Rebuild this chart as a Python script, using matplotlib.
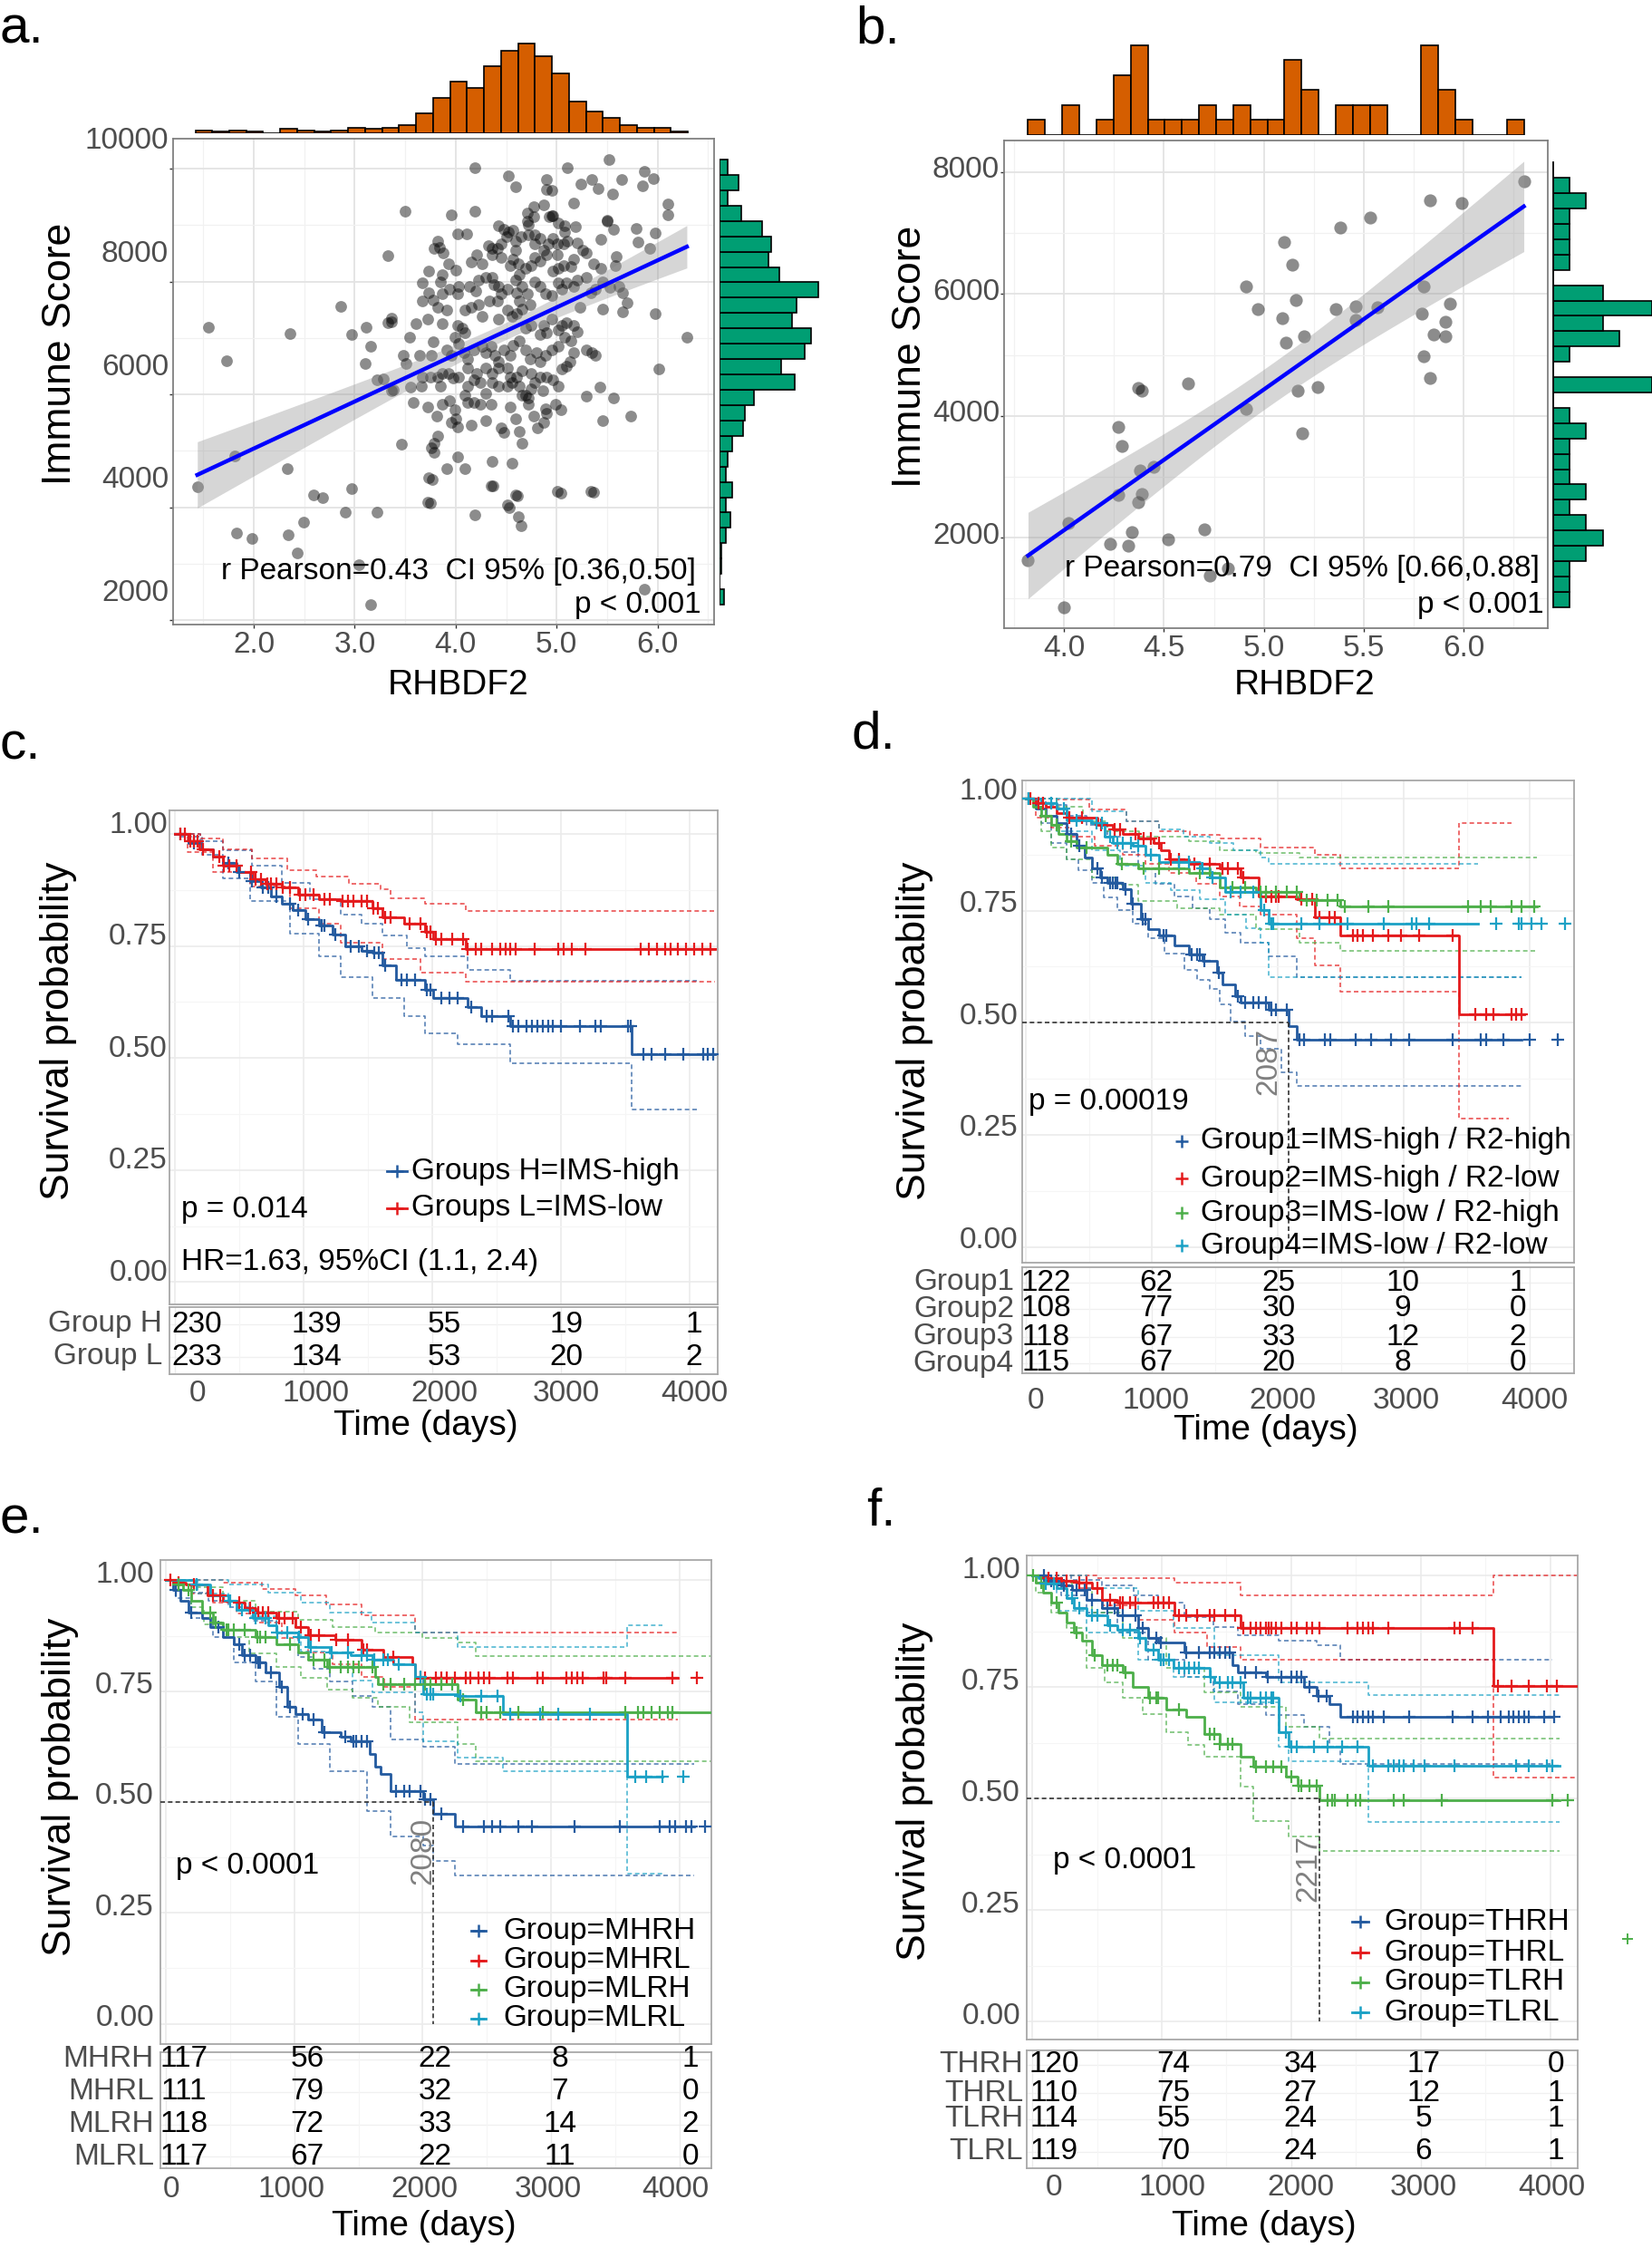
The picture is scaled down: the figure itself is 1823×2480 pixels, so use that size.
import numpy as np
import matplotlib
matplotlib.use("Agg")
import matplotlib.pyplot as plt
from matplotlib.lines import Line2D
import matplotlib.transforms as mtransforms

plt.rcParams['font.family'] = ['Liberation Sans', 'DejaVu Sans']

# ---------------- Panel a data ----------------
a_rhbdf2 = [
5.52,4.19,5.11,4.52,4.59,4.90,4.90,4.95,5.24,5.35,
5.41,5.55,5.64,5.87,5.96,5.85,5.17,6.10,6.10,3.50,
3.96,4.19,4.77,4.87,4.71,4.95,5.50,5.50,4.72,4.42,
4.52,4.57,4.48,4.71,4.77,4.93,4.96,5.02,5.08,5.08,
5.19,5.56,5.79,5.98,5.81,5.92,4.02,4.11,3.82,3.79,
3.84,3.88,4.32,4.36,4.41,4.45,4.50,4.59,4.59,4.65,
4.72,4.78,4.78,4.84,4.87,4.92,4.96,5.01,5.07,5.11,
5.20,5.26,5.29,5.44,4.57,4.62,4.54,4.45,4.36,4.21,
4.26,4.15,3.73,3.87,3.93,4.00,4.78,4.84,4.90,5.01,
5.07,5.02,4.96,5.14,5.17,5.37,5.44,5.59,5.58,4.69,
4.75,4.63,3.67,3.73,3.67,3.78,3.85,3.87,3.82,3.91,
3.94,4.02,4.03,3.33,3.33,3.36,3.61,3.72,3.87,4.14,
4.20,4.23,4.30,4.36,4.38,4.42,4.45,4.51,4.59,4.60,
4.63,4.66,4.71,4.74,4.78,4.84,4.89,4.95,5.02,5.05,
5.10,5.17,5.20,5.29,5.34,5.38,5.46,5.53,5.62,5.65,
5.70,5.65,5.46,5.23,4.09,4.15,4.23,4.26,4.33,4.41,
4.42,4.51,4.56,4.60,4.66,4.87,4.95,5.05,5.10,5.17,
5.20,5.08,5.02,4.90,4.84,4.75,4.69,4.06,4.09,3.99,
4.02,5.98,6.29,3.54,3.78,3.48,3.51,3.64,3.76,3.91,
3.96,4.03,4.08,4.12,4.18,4.26,4.30,4.35,4.39,4.42,
4.48,4.54,4.57,4.63,4.69,4.74,4.80,4.84,4.89,4.95,
5.02,5.14,5.17,5.29,5.35,5.38,5.13,5.05,5.10,4.12,
4.21,4.30,4.36,4.42,4.51,4.54,4.60,4.66,4.75,4.78,
4.84,4.90,4.96,3.67,3.75,3.82,3.87,3.93,3.97,4.03,
4.12,4.18,4.24,3.22,3.36,3.55,3.66,3.85,4.09,4.30,
4.36,4.42,4.51,4.56,4.63,4.66,4.72,4.75,4.86,5.02,
5.43,5.29,5.56,6.01,3.58,3.72,3.81,3.87,3.94,3.99,
4.00,3.96,4.02,4.12,4.18,4.24,4.30,4.35,4.45,4.48,
4.54,4.59,4.63,4.66,4.69,4.72,4.77,4.81,4.87,4.89,
4.90,4.99,5.04,4.15,5.46,5.73,3.82,3.79,3.76,3.79,
3.46,4.02,3.91,4.09,3.73,4.36,4.56,4.35,4.59,5.01,
5.34,3.72,4.51,1.55,1.73,2.36,2.86,2.97,3.11,3.16,
3.10,1.44,1.81,2.33,2.59,2.68,2.97,2.91,3.22,2.49,
1.83,1.98,2.34,2.43,3.04,3.16,3.28,3.38,3.36,3.77,
3.75,4.19,4.53,4.62,4.65,4.61,5.04,5.37,5.87,4.37,
]
a_immune = [
10160,10011,10016,9877,9679,9802,9636,9610,9722,9813,
9652,9556,9802,9957,9829,9695,9385,9369,9187,9251,
9187,9251,9332,9358,9209,9171,9091,9064,9011,8995,
8877,8904,8920,9064,9144,9144,9171,9037,8984,8877,
8973,8930,8941,8866,8706,8583,8850,8840,8717,8583,
8610,8503,8636,8583,8583,8663,8797,8717,8556,8797,
8823,8823,8663,8770,8556,8663,8770,8663,8663,8717,
8690,8556,8503,8743,8396,8315,8289,8422,8476,8476,
8315,8342,8182,8128,8315,8208,8422,8369,8476,8476,
8289,8235,8182,8262,8396,8315,8235,8449,8289,8235,
8289,8128,7968,7807,7647,7674,7995,7781,7540,7486,
7861,7781,7914,8465,7272,7353,7246,7326,7246,7914,
7834,8021,8075,8075,7941,7914,7781,7861,8021,7807,
7647,7914,7781,7593,7995,7914,7781,7754,7968,7861,
7968,7914,8021,8075,7807,7861,7995,7888,7914,7807,
7620,7460,7513,7540,7486,7540,7593,7379,7647,7647,
7326,7486,7379,7433,7513,7219,7326,7219,7272,7219,
7112,7005,7139,7085,7059,7219,7166,7166,7085,7005,
7219,7433,7005,7005,6925,6684,6551,6684,6684,6791,
6684,6898,6738,6631,6791,6845,6738,6845,6684,6577,
6791,6684,6871,6952,6791,6631,6738,6577,6684,6791,
6845,6952,6738,6791,6738,6684,6577,6444,6497,6470,
6363,6470,6363,6470,6470,6310,6310,6417,6363,6203,
6310,6310,6256,6310,6310,6310,6363,6363,6283,6310,
6149,6256,6203,6256,6069,6123,6149,6149,5989,6016,
6203,6149,6149,6203,6149,5989,5936,6096,6069,6149,
6123,5962,5936,6444,5855,5775,5615,5829,5882,5722,
5561,5508,5427,5855,5855,5829,5534,5829,5401,5320,
5775,5561,5347,5133,5989,5829,5615,5401,5508,5748,
5668,5829,5722,5454,5534,5615,5267,5133,5053,4973,
5117,4893,4679,4679,4518,4812,4786,4385,4224,4278,
4278,4090,4037,7184,6600,7083,7558,7067,7184,6857,
6553,4363,4908,4675,4223,4168,4324,3911,3911,3740,
3545,3444,3514,3187,2977,2276,6272,6077,7293,4496,
4067,3857,3990,3833,3677,4208,4247,4262,2548,4379,
]
a_top_counts = [2,1,2,1,0,3,2,1,2,4,3,4,6,14,25,36,32,47,58,63,54,42,22,15,11,6,4,4,1]
a_top_range = (1.42, 6.30)
a_right_counts = [2,0,1,1,3,5,3,6,3,4,6,11,12,16,35,29,40,43,34,36,46,28,23,24,20,10,4,9,4]
a_right_range = (2273, 10160)
a_stats = "r Pearson=0.43  CI 95% [0.36,0.50]"

# ---------------- Panel b data ----------------
b_rhbdf2 = [6.30,5.83,5.99,5.53,5.38,5.10,5.14,4.91,5.80,5.16,5.93,4.97,5.36,5.46,5.57,5.09,5.79,
            5.46,5.91,5.20,5.85,5.91,5.11,5.80,5.83,4.62,5.27,4.37,4.39,5.17,4.91,4.27,5.19,4.29,
            4.38,4.45,4.27,4.39,4.37,4.02,4.70,4.34,4.52,4.23,4.32,3.82,4.82,4.73,4.00]
b_immune = [7848,7545,7501,7263,7096,6858,6475,6128,6128,5904,5838,5745,5745,5795,5788,5607,5672,
            5578,5542,5304,5332,5304,5202,4978,4617,4537,4472,4458,4407,4407,4118,3822,3713,3511,
            3099,3157,2701,2716,2578,2238,2130,2087,1971,1899,1862,1624,1501,1371,858]
b_top_counts = [1,0,2,0,1,4,6,1,1,1,2,1,2,1,1,5,3,0,2,2,2,0,0,6,3,1,0,0,1]
b_top_range = (3.82, 6.30)
b_right_counts = [1,1,1,2,3,2,1,2,1,1,1,2,1,0,6,0,1,4,3,6,3,0,1,1,1,1,2,1]
b_right_range = (860, 7905)
b_stats = "r Pearson=0.79  CI 95% [0.66,0.88]"

# ---------------- Panel c data (KM) ----------------
c_H_time = [0,107,211,293,376,480,583,666,748,831,914,1017,1120,1224,1327,1451,1534,1616,1720,1947,2009,2278,2381,2609,3551]
c_H_surv = [1.0,0.98,0.965,0.95,0.935,0.915,0.895,0.88,0.86,0.845,0.83,0.81,0.795,0.775,0.75,0.74,0.735,0.706,0.675,0.652,0.634,0.613,0.593,0.572,0.508]
c_H_end = 4200
c_H_cens = [45,149,418,500,600,680,728,790,893,955,1038,1140,1162,1244,1368,1430,1492,1550,1583,1637,1761,1802,1864,1960,1988,2071,2133,2195,2300,2423,2464,2588,2629,2671,2733,2774,2815,2857,2898,2939,3001,3146,3270,3311,3520,3540,3642,3704,3807,3952,4105,4138,4180]
c_H_up = ([0,200,376,600,831,1050,1286,1450,1616,1800,1947,2278,2609],[1.0,0.985,0.964,0.93,0.892,0.855,0.82,0.80,0.773,0.745,0.727,0.696,0.672],4055)
c_H_lo = ([0,45,211,376,583,893,1120,1286,1534,1782,1947,2195,2609,3551],[1.0,0.995,0.954,0.902,0.851,0.778,0.727,0.680,0.634,0.593,0.556,0.530,0.489,0.386],4055)

c_L_time = [0,107,190,293,376,500,604,707,831,955,1120,1286,1534,1616,1782,1947,2009,2257]
c_L_surv = [1.0,0.985,0.965,0.95,0.93,0.915,0.9,0.89,0.88,0.865,0.855,0.85,0.835,0.815,0.80,0.782,0.765,0.743]
c_L_end = 4200
c_L_cens = [45,79,120,149,178,220,343,384,426,480,590,624,666,720,748,790,840,893,970,1017,1079,1162,1203,1300,1348,1389,1451,1492,1545,1575,1637,1678,1823,1906,1960,1988,2030,2071,2154,2236,2278,2340,2381,2464,2526,2567,2609,2650,2795,2981,3022,3084,3187,3621,3683,3745,3807,3849,3911,3973,4035,4097,4159]
c_L_up = ([0,200,376,600,872,1100,1350,1596,1678,1947,2257],[1.0,0.99,0.965,0.945,0.92,0.905,0.89,0.877,0.856,0.845,0.828],4200)
c_L_lo = ([0,100,293,583,893,1120,1286,1616,1906,2257],[1.0,0.96,0.915,0.884,0.835,0.80,0.758,0.722,0.69,0.67],4200)

c_names = ["Group H", "Group L"]
c_risk = [[230,139,55,19,1],[233,134,53,20,2]]
c_legend = ["Groups H=IMS-high", "Groups L=IMS-low"]

# ---------------- Panel d data ----------------
d_G1_time = [0,79,160,242,323,404,465,526,587,648,770,831,912,973,1054,1176,1298,1399,1520,1561,1662,1703,1926,2087,2149]
d_G1_surv = [1.0,0.977,0.962,0.946,0.921,0.895,0.869,0.843,0.823,0.812,0.797,0.766,0.730,0.709,0.694,0.673,0.652,0.637,0.611,0.586,0.560,0.544,0.529,0.493,0.462]
d_G1_end = 3935
d_G1_cens = [18,363,424,566,607,668,688,709,729,790,851,925,952,1094,1115,1318,1359,1379,1420,1530,1682,1743,1804,1845,1906,1946,1987,2068,2170,2210,2373,2414,2617,2739,2901,3043,3388,3611,3652,3794,3997,4220]
d_G1_up = ([0,160,323,480,648,770,891,1030,1176,1320,1460,1580,1703,1926,2149],[1.0,0.985,0.962,0.94,0.915,0.88,0.843,0.81,0.781,0.755,0.73,0.70,0.678,0.647,0.601],3935)
d_G1_lo = ([0,120,200,323,420,526,620,729,850,973,1100,1257,1360,1460,1540,1622,1740,1866,2028,2149],[1.0,0.946,0.90,0.864,0.84,0.812,0.78,0.751,0.72,0.689,0.655,0.617,0.595,0.575,0.54,0.503,0.47,0.441,0.39,0.359],3935)

d_G2_time = [0,79,160,242,323,566,688,770,891,1013,1074,1134,1297,1541,1703,1845,2149,2291,2494,3436]
d_G2_surv = [1.0,0.99,0.982,0.967,0.957,0.941,0.931,0.921,0.91,0.90,0.885,0.864,0.854,0.843,0.823,0.781,0.776,0.735,0.694,0.519]
d_G2_end = 3955
d_G2_cens = [39,100,140,343,445,600,708,749,871,932,993,1054,1150,1216,1338,1460,1560,1602,1683,1724,1906,1946,1987,2007,2190,2271,2332,2413,2453,2595,2636,2677,2758,2880,2981,3123,3388,3570,3651,3712,3854,3895,3936]
d_G2_up = ([0,242,500,800,1054,1300,1541,1866,2291,2494,3436],[1.0,0.998,0.975,0.95,0.926,0.918,0.91,0.89,0.874,0.843,0.946],3854)
d_G2_lo = ([0,79,200,363,550,770,950,1134,1350,1541,1700,1866,2149,2291,2494,3436],[1.0,0.957,0.935,0.915,0.895,0.874,0.855,0.833,0.81,0.781,0.76,0.74,0.689,0.627,0.57,0.287],3833)

d_G3_time = [0,59,120,201,262,323,404,648,729,891,1297,1541,1825,2170,2494]
d_G3_surv = [1.0,0.982,0.962,0.941,0.921,0.905,0.89,0.874,0.854,0.843,0.833,0.802,0.792,0.773,0.759]
d_G3_end = 4056
d_G3_cens = [18,160,242,363,485,760,932,1054,1216,1379,1460,1643,1744,1860,1906,1987,2068,2149,2230,2311,2393,2474,2535,2717,2880,3509,3611,3692,3854,3936,4037]
d_G3_up = ([0,242,450,648,900,1297,1541,1825,2170],[1.0,0.982,0.95,0.926,0.915,0.905,0.885,0.879,0.869],4056)
d_G3_lo = ([0,120,200,323,526,729,891,1200,1541,1825,2170,2494],[1.0,0.926,0.89,0.864,0.823,0.807,0.771,0.755,0.74,0.709,0.678,0.661],4056)

d_G4_time = [0,120,242,323,526,627,688,851,952,1054,1379,1460,1582,1866,1926]
d_G4_surv = [1.0,0.99,0.977,0.951,0.946,0.915,0.9,0.895,0.874,0.859,0.843,0.823,0.792,0.751,0.72]
d_G4_end = 3589
d_G4_cens = [18,201,302,404,560,607,668,729,770,831,891,990,1216,1297,1400,1480,1622,1703,1804,1890,1950,1967,2190,2332,2555,2839,3062,3103,3204,3731,3913,3933,4014,4095,4278]
d_G4_up = ([0,526,800,1054,1250,1460,1650,1866,1926],[1.0,0.972,0.95,0.931,0.915,0.90,0.885,0.869,0.854],3589)
d_G4_lo = ([0,242,526,750,952,1150,1379,1582,1750,1866,1926],[1.0,0.926,0.885,0.85,0.812,0.795,0.776,0.74,0.71,0.678,0.601],3935)

d_median = 2087
d_names = ["Group1", "Group2", "Group3", "Group4"]
d_risk = [[122,62,25,10,1],[108,77,30,9,0],[118,67,33,12,2],[115,67,20,8,0]]
d_legend = ["Group1=IMS-high / R2-high", "Group2=IMS-high / R2-low", "Group3=IMS-low / R2-high", "Group4=IMS-low / R2-low"]

# ---------------- Panel e data ----------------
e_MHRH_time = [0,55,116,178,282,344,448,530,592,696,779,882,945,1007,1110,1214,1359,1441,1586,1628,1669,1752,2001,2080,2249]
e_MHRH_surv = [1.0,0.978,0.955,0.927,0.916,0.894,0.872,0.855,0.832,0.815,0.793,0.759,0.715,0.698,0.686,0.658,0.647,0.636,0.608,0.580,0.563,0.524,0.507,0.474,0.444]
e_MHRH_end = 4113
e_MHRH_cens = [75,199,406,572,613,655,720,737,820,903,965,1069,1152,1234,1400,1460,1483,1524,1566,1794,1856,1897,1980,2021,2063,2145,2311,2477,2539,2601,2746,2849,3180,3533,3843,3926,3968,4050,4092,4195]
e_MHRH_up = ([0,100,178,330,489,680,862,1028,1150,1276,1450,1607,1752,2001,2249],[1.0,0.99,0.972,0.955,0.939,0.91,0.883,0.827,0.80,0.771,0.74,0.715,0.642,0.625,0.586],4113)
e_MHRH_lo = ([0,75,199,365,530,696,862,1028,1276,1565,1752,2001,2080,2249],[1.0,0.961,0.916,0.872,0.815,0.771,0.692,0.631,0.569,0.479,0.423,0.401,0.367,0.334],4113)

e_MHRL_time = [0,55,158,323,448,551,613,696,862,1007,1110,1317,1524,1690,1918,1938]
e_MHRL_surv = [1.0,0.995,0.99,0.967,0.955,0.95,0.938,0.927,0.916,0.894,0.877,0.866,0.843,0.827,0.81,0.78]
e_MHRL_end = 3988
e_MHRL_cens = [34,96,220,365,427,572,655,717,758,799,880,924,986,1048,1131,1193,1330,1421,1540,1566,1773,1980,2021,2104,2145,2187,2249,2332,2373,2435,2477,2518,2663,2705,2891,2932,3119,3160,3201,3243,3408,3429,3574,3947,4133]
e_MHRL_up = ([0,448,750,1007,1250,1524,1938],[1.0,0.995,0.98,0.967,0.945,0.922,0.883],3988)
e_MHRL_lo = ([0,200,365,550,696,900,1110,1300,1524,1700,1938],[1.0,0.97,0.95,0.925,0.905,0.87,0.838,0.81,0.782,0.76,0.687],3988)

e_MLRH_time = [0,75,137,199,282,365,448,696,862,1028,1110,1255,1628,1648,2270,2415]
e_MLRH_surv = [1.0,0.99,0.978,0.955,0.927,0.905,0.888,0.872,0.855,0.838,0.821,0.804,0.782,0.765,0.731,0.703]
e_MLRH_end = 4249
e_MLRH_cens = [96,178,344,386,470,489,530,613,710,737,779,965,1152,1234,1276,1359,1421,1462,1503,1607,1690,1752,1856,1938,2021,2063,2145,2228,2311,2456,2497,2601,2746,2932,3574,3677,3719,3781,3843,3905,3947]
e_MLRH_up = ([0,200,448,700,1028,1300,1628,2000,2270,2415],[1.0,0.985,0.955,0.93,0.911,0.895,0.883,0.87,0.86,0.829],4249)
e_MLRH_lo = ([0,199,300,448,650,862,1050,1255,1450,1648,1900,2270,2415],[1.0,0.939,0.90,0.872,0.835,0.804,0.78,0.754,0.735,0.715,0.68,0.631,0.592],4249)

e_MLRL_time = [0,220,344,489,551,675,799,862,1028,1110,1276,1441,1607,1773,1938,2001,2270,2621,3594]
e_MLRL_surv = [1.0,0.99,0.967,0.955,0.933,0.916,0.899,0.883,0.872,0.849,0.838,0.832,0.821,0.810,0.782,0.743,0.739,0.698,0.558]
e_MLRL_end = 3863
e_MLRL_cens = [241,500,592,700,779,870,945,1040,1131,1290,1421,1524,1566,1620,1690,1731,1814,1980,2030,2063,2083,2290,2456,2580,2684,2911,3056,3305,3657,3740,3863,4029]
e_MLRL_up = ([0,489,799,1050,1276,1600,1938,2270,3594],[1.0,0.99,0.972,0.95,0.927,0.905,0.883,0.849,0.899],3863)
e_MLRL_lo = ([0,250,489,650,862,1050,1276,1450,1607,1938,2001,2270,2621,3594],[1.0,0.97,0.95,0.92,0.883,0.84,0.804,0.775,0.748,0.703,0.636,0.60,0.569,0.339],3863)

e_median = 2080
e_names = ["MHRH", "MHRL", "MLRH", "MLRL"]
e_risk = [[117,56,22,8,1],[111,79,32,7,0],[118,72,33,14,2],[117,67,22,11,0]]
e_legend = ["Group=MHRH", "Group=MHRL", "Group=MLRH", "Group=MLRL"]

# ---------------- Panel f data ----------------
f_THRH_time = [0,108,226,305,423,541,659,817,896,975,1172,1547,1586,1803,2099,2197,2296,2375]
f_THRH_surv = [1.0,0.989,0.978,0.967,0.945,0.928,0.911,0.883,0.861,0.85,0.828,0.80,0.783,0.772,0.75,0.73,0.711,0.683]
f_THRH_end = 4012
f_THRH_cens = [88,147,245,344,403,462,580,639,698,797,856,955,990,1190,1290,1369,1409,1448,1488,1527,1645,1724,1820,1921,1999,2039,2078,2138,2210,2276,2474,2513,2552,2592,2631,2710,2907,3242,3400,3518,3617,3676,3716,3755,3795,3834,3952,4031]
f_THRH_up = ([0,300,541,780,975,1172,1400,1586,1900,2197,2375],[1.0,0.99,0.978,0.955,0.939,0.906,0.885,0.867,0.855,0.844,0.811],4012)
f_THRH_lo = ([0,226,423,659,896,1172,1400,1586,1803,2099,2296,2375],[1.0,0.956,0.917,0.872,0.811,0.772,0.74,0.711,0.688,0.661,0.616,0.577],4012)

f_THRL_time = [0,108,226,344,462,541,659,1101,1605,3558]
f_THRL_surv = [1.0,0.995,0.989,0.984,0.972,0.945,0.939,0.911,0.883,0.752]
f_THRL_end = 4210
f_THRL_cens = [127,186,265,364,423,502,600,680,699,758,797,936,975,1014,1054,1133,1192,1271,1369,1409,1488,1567,1626,1685,1724,1764,1803,1823,1843,1882,1922,2000,2040,2119,2158,2217,2434,2513,2553,2592,2631,2750,3262,3302,3401,3598,3696,3834,3972,4051]
f_THRL_up = ([0,500,1101,1605,3558],[1.0,0.995,0.984,0.956,1.0],4210)
f_THRL_lo = ([0,200,344,541,800,1101,1350,1605,3558],[1.0,0.985,0.972,0.933,0.90,0.872,0.84,0.811,0.547],4210)

f_TLRH_time = [0,28,87,147,206,265,324,383,462,541,699,778,896,1034,1192,1330,1448,1606,1705,1961,2050,2217]
f_TLRH_surv = [1.0,0.984,0.961,0.939,0.917,0.895,0.872,0.855,0.822,0.80,0.783,0.75,0.727,0.70,0.683,0.644,0.622,0.594,0.572,0.549,0.529,0.496]
f_TLRH_end = 4071
f_TLRH_cens = [9,67,186,344,482,580,620,659,720,910,955,975,1133,1369,1409,1448,1508,1547,1725,1803,1862,1922,2000,2059,2079,2138,2198,2277,2316,2336,2434,2494,2533,2789,2868,3164,4012,4130]
f_TLRH_up = ([0,107,305,462,699,1034,1330,1606,1961,2217],[1.0,0.989,0.967,0.917,0.861,0.794,0.739,0.705,0.661,0.635],4071)
f_TLRH_lo = ([0,28,147,265,423,560,699,850,1034,1200,1330,1606,1705,1981,2217],[1.0,0.961,0.917,0.883,0.794,0.76,0.727,0.69,0.649,0.62,0.594,0.527,0.449,0.416,0.382],4071)

f_TLRL_time = [0,48,107,186,265,324,423,580,659,817,876,975,1093,1369,1409,1626,1902,1981,2592]
f_TLRL_surv = [1.0,0.994,0.983,0.972,0.95,0.928,0.911,0.889,0.878,0.861,0.833,0.811,0.794,0.772,0.761,0.727,0.649,0.616,0.574]
f_TLRL_end = 4071
f_TLRL_cens = [107,166,305,364,462,502,600,699,758,830,936,990,1014,1054,1133,1172,1211,1251,1290,1380,1448,1508,1547,1606,1665,1685,1764,1803,1843,1862,1961,2000,2040,2178,2277,2395,2513,2631,2750,2789,2829,2868,2947,3026,3262,3735,3834,3972,4012]
f_TLRL_up = ([0,423,817,1093,1409,1902,2592],[1.0,0.972,0.922,0.883,0.822,0.761,0.733],4071)
f_TLRL_lo = ([0,186,423,817,1093,1409,1902,1981,2592],[1.0,0.922,0.872,0.811,0.772,0.716,0.616,0.583,0.447],4071)

f_median = 2217
f_names = ["THRH", "THRL", "TLRH", "TLRL"]
f_risk = [[120,74,34,17,0],[110,75,27,12,1],[114,55,24,5,1],[119,70,24,6,1]]
f_legend = ["Group=THRH", "Group=THRL", "Group=TLRH", "Group=TLRL"]

time_ticks = [0, 1000, 2000, 3000, 4000]
surv_ticks = [0.0, 0.25, 0.5, 0.75, 1.0]
surv_tick_labels = ["0.00", "0.25", "0.50", "0.75", "1.00"]

# ---------------- styling ----------------
W, H = 1824, 2480
BLUE = '#235A9F'
RED = '#E41A1C'
GREEN = '#4DAF4A'
CYAN = '#1BA1C5'
GRAYTXT = '#4D4D4D'
ORANGE = '#D55E00'
HGREEN = '#009E73'

fig = plt.figure(figsize=(W / 100, H / 100), dpi=100)
fig.patch.set_facecolor('white')


def add_ax(x0, y0, x1, y1):
    return fig.add_axes([x0 / W, 1 - y1 / H, (x1 - x0) / W, (y1 - y0) / H])


def ftext(x, y, s, **kw):
    return fig.text(x / W, 1 - y / H, s, **kw)


def inside(vals, lim):
    return [v for v in vals if lim[0] <= v <= lim[1]]


def ylabels(ax, vals, labs, dx, dy, fs=24):
    tr = mtransforms.offset_copy(ax.get_yaxis_transform(), fig=fig, x=dx, y=dy, units='dots')
    for v, l in zip(vals, labs):
        ax.text(0, v, l, transform=tr, ha='right', va='center', fontsize=fs,
                color=GRAYTXT, clip_on=False)


def scatter_panel(box, xlim, ylim, xs, ys, xticks, yticks, top_box, top_counts, top_range,
                  top_ylim, right_box, right_counts, right_range, right_xlim, ylab_dy,
                  pt_size, tcrit):
    ax = add_ax(*box)
    xstep = xticks[1] - xticks[0]
    ystep = yticks[1] - yticks[0]
    ax.set_xticks(xticks)
    ax.set_xticklabels(['%.1f' % v for v in xticks])
    ax.set_xticks(inside(list(np.arange(xticks[0] - xstep / 2, xlim[1], xstep)), xlim), minor=True)
    ax.set_yticks(yticks)
    ax.set_yticks(inside(list(np.arange(yticks[0] - ystep / 2, ylim[1], ystep)), ylim), minor=True)
    ax.grid(True, which='major', color='#E3E3E3', lw=1.3)
    ax.grid(True, which='minor', color='#F1F1F1', lw=0.9)
    ax.set_axisbelow(True)
    ax.tick_params(which='major', length=3, width=1, color='#333333', labelsize=24,
                   labelcolor=GRAYTXT, pad=2, labelleft=False)
    ax.tick_params(which='minor', length=0)
    for sp in ax.spines.values():
        sp.set_color('#808080')
        sp.set_linewidth(1.3)

    n = min(len(xs), len(ys))
    x = np.array(xs[:n], dtype=float)
    y = np.array(ys[:n], dtype=float)
    b1, b0 = np.polyfit(x, y, 1)
    xg = np.linspace(x.min(), x.max(), 200)
    yhat = b0 + b1 * xg
    resid = y - (b0 + b1 * x)
    s = np.sqrt(np.sum(resid ** 2) / (n - 2))
    se = s * np.sqrt(1.0 / n + (xg - x.mean()) ** 2 / np.sum((x - x.mean()) ** 2))
    ax.scatter(x, y, s=pt_size, color='black', alpha=0.45, lw=0, zorder=3)
    ax.fill_between(xg, yhat - tcrit * se, yhat + tcrit * se, color='#999999', alpha=0.4,
                    lw=0, zorder=4)
    ax.plot(xg, yhat, color='#0000FF', lw=3.2, zorder=5)
    ax.set_xlim(*xlim)
    ax.set_ylim(*ylim)
    ylabels(ax, yticks, [str(v) for v in yticks], -5, ylab_dy)

    axt = add_ax(*top_box)
    edges = np.linspace(top_range[0], top_range[1], len(top_counts) + 1)
    axt.bar(edges[:-1], top_counts, width=np.diff(edges), align='edge', color=ORANGE,
            edgecolor='black', lw=1.2)
    axt.set_xlim(*xlim)
    axt.set_ylim(*top_ylim)
    axt.axis('off')

    axr = add_ax(*right_box)
    edges = np.linspace(right_range[0], right_range[1], len(right_counts) + 1)
    axr.barh(edges[:-1], right_counts, height=np.diff(edges), align='edge', color=HGREEN,
             edgecolor='black', lw=1.2)
    axr.set_ylim(*ylim)
    axr.set_xlim(*right_xlim)
    axr.axis('off')
    return ax, axr


def km_panel(box, xlim, ylim, curves, median=None):
    ax = add_ax(*box)
    ax.set_xticks(time_ticks)
    ax.set_xticks([500, 1500, 2500, 3500], minor=True)
    ax.set_yticks(surv_ticks)
    ax.set_yticks([0.125, 0.375, 0.625, 0.875], minor=True)
    ax.tick_params(which='both', length=0, labelbottom=False, labelleft=False)
    ax.grid(True, which='major', color='#EBEBEB', lw=1.2)
    ax.grid(True, which='minor', color='#F5F5F5', lw=0.8)
    ax.set_axisbelow(True)
    for sp in ax.spines.values():
        sp.set_color('#A8A8A8')
        sp.set_linewidth(1.3)
    for time, surv, end, cens, up, lo, color in curves:
        for ci in (up, lo):
            t, sv, e = ci
            ax.step(list(t) + [e], list(sv) + [sv[-1]], where='post', color=color, lw=1.2,
                    ls=(0, (3, 2)), alpha=0.75, zorder=2)
    for time, surv, end, cens, up, lo, color in curves:
        ax.step(list(time) + [end], list(surv) + [surv[-1]], where='post', color=color,
                lw=2.0, zorder=3)
        tarr = np.array(time)
        sarr = np.array(surv)
        idx = np.searchsorted(tarr, np.array(cens), side='right') - 1
        ax.plot(cens, sarr[idx], ls='none', marker='+', ms=10, mew=1.6, color=color,
                zorder=4)
    if median is not None:
        ax.plot([xlim[0], median], [0.5, 0.5], ls=(0, (3, 2)), color='#333333', lw=1.2, zorder=5)
        ax.plot([median, median], [0.5, 0.0], ls=(0, (3, 2)), color='#333333', lw=1.2, zorder=5)
    ax.set_xlim(*xlim)
    ax.set_ylim(*ylim)
    return ax


def risk_table(box, xlim, names, values, row_y, name_right, col_x, tick_x, tick_y,
               title_x, title_y):
    axt = add_ax(*box)
    axt.set_xticks(time_ticks)
    axt.set_xticks([500, 1500, 2500, 3500], minor=True)
    axt.set_yticks([])
    axt.tick_params(which='both', length=0, labelbottom=False, labelleft=False)
    axt.grid(True, which='major', axis='x', color='#EBEBEB', lw=1.0)
    axt.grid(True, which='minor', axis='x', color='#F5F5F5', lw=0.8)
    for sp in axt.spines.values():
        sp.set_color('#A8A8A8')
        sp.set_linewidth(1.3)
    axt.set_xlim(*xlim)
    axt.set_ylim(0, 1)
    y0, y1 = box[1], box[3]
    for ry in row_y:
        fr = (y1 - ry) / (y1 - y0)
        axt.axhline(fr, color='#F0F0F0', lw=1.0, zorder=0)
    for name, vals, ry in zip(names, values, row_y):
        ftext(name_right, ry, name, ha='right', va='center', fontsize=24, color=GRAYTXT)
        for v, cx in zip(vals, col_x):
            ftext(cx, ry, str(v), ha='center', va='center', fontsize=24, color='black')
    for t, tx in zip(time_ticks, tick_x):
        ftext(tx, tick_y, str(t), ha='center', va='center', fontsize=24, color=GRAYTXT)
    ftext(title_x, title_y, "Time (days)", ha='center', va='center', fontsize=28)


def legend(labels, colors, marker_x, text_x, ys, half=0):
    for lab, col, y in zip(labels, colors, ys):
        yy = 1 - y / H
        if half:
            fig.add_artist(Line2D([(marker_x - half) / W, (marker_x + half) / W], [yy, yy],
                                  color=col, lw=2.0))
        fig.add_artist(Line2D([marker_x / W], [yy], marker='+', ms=10, mew=1.8, color=col,
                              ls='none'))
        ftext(text_x, y, lab, ha='left', va='center', fontsize=24)


# ---------------- Panel a ----------------
axa, _ = scatter_panel((191, 153, 788, 689), (1.20, 6.56), (1920, 10530), a_rhbdf2, a_immune,
                       [2.0, 3.0, 4.0, 5.0, 6.0], [2000, 4000, 6000, 8000, 10000],
                       (191, 40, 788, 147), a_top_counts, a_top_range, (0, 68),
                       (794, 153, 912, 689), a_right_counts, a_right_range, (0, 50),
                       30, 85, 1.97)
ftext(768, 630, a_stats, ha='right', va='center', fontsize=24)
ftext(774, 668, "p < 0.001", ha='right', va='center', fontsize=24)
ftext(67, 390, "Immune Score", ha='center', va='center', rotation=90, fontsize=32)
ftext(506, 756, "RHBDF2", ha='center', va='center', fontsize=28)
ftext(0, 47, "a.", ha='left', va='baseline', fontsize=42)

# ---------------- Panel b ----------------
axb, axbr = scatter_panel((1108, 155, 1708, 693), (3.70, 6.42), (512, 8521), b_rhbdf2, b_immune,
                          [4.0, 4.5, 5.0, 5.5, 6.0], [2000, 4000, 6000, 8000],
                          (1108, 40, 1708, 149), b_top_counts, b_top_range, (0, 6.6),
                          (1714, 155, 1824, 693), b_right_counts, b_right_range, (0, 6.05),
                          2, 105, 2.01)
axbr.plot([0, 0], [b_right_range[0], 8158], color='black', lw=1.3, clip_on=False)
ftext(1699, 628, b_stats, ha='right', va='center', fontsize=24)
ftext(1704, 668, "p < 0.001", ha='right', va='center', fontsize=24)
ftext(1005, 393, "Immune Score", ha='center', va='center', rotation=90, fontsize=32)
ftext(1440, 756, "RHBDF2", ha='center', va='center', fontsize=28)
ftext(944, 47, "b.", ha='left', va='baseline', fontsize=42)

# ---------------- Panel c ----------------
c_curves = [
    (c_H_time, c_H_surv, c_H_end, c_H_cens, c_H_up, c_H_lo, BLUE),
    (c_L_time, c_L_surv, c_L_end, c_L_cens, c_L_up, c_L_lo, RED),
]
axc = km_panel((187, 894, 792, 1439), (-42, 4218), (-0.05, 1.053), c_curves)
ylabels(axc, surv_ticks, surv_tick_labels, -2, 10)
risk_table((187, 1442, 792, 1516), (-42, 4218), c_names, c_risk, [1461, 1497], 179,
           [217, 349, 490, 625, 766], [218, 349, 490, 625, 766], 1537, 470, 1573)
ftext(65, 1137, "Survival probability", ha='center', va='center', rotation=90, fontsize=32)
legend(c_legend, [BLUE, RED], 438, 454, [1292, 1333], half=11)
ftext(200, 1335, "p = 0.014", ha='left', va='center', fontsize=24)
ftext(200, 1392, "HR=1.63, 95%CI (1.1, 2.4)", ha='left', va='center', fontsize=24)
ftext(0, 838, "c.", ha='left', va='baseline', fontsize=42)

# ---------------- Panel d ----------------
d_curves = [
    (d_G1_time, d_G1_surv, d_G1_end, d_G1_cens, d_G1_up, d_G1_lo, BLUE),
    (d_G2_time, d_G2_surv, d_G2_end, d_G2_cens, d_G2_up, d_G2_lo, RED),
    (d_G3_time, d_G3_surv, d_G3_end, d_G3_cens, d_G3_up, d_G3_lo, GREEN),
    (d_G4_time, d_G4_surv, d_G4_end, d_G4_cens, d_G4_up, d_G4_lo, CYAN),
]
axd = km_panel((1128, 861, 1737, 1393), (-29, 4352), (-0.035, 1.04), d_curves, d_median)
ylabels(axd, surv_ticks, surv_tick_labels, -5, 7)
risk_table((1128, 1398, 1737, 1515), (-29, 4352), d_names, d_risk, [1415, 1444, 1475, 1504],
           1119, [1154, 1276, 1411, 1548, 1675], [1143, 1276, 1415, 1552, 1693], 1546, 1397, 1578)
ftext(1010, 1137, "Survival probability", ha='center', va='center', rotation=90, fontsize=32)
legend(d_legend, [BLUE, RED, GREEN, CYAN], 1304, 1325, [1259, 1300, 1338, 1374])
ftext(1135, 1216, "p = 0.00019", ha='left', va='center', fontsize=24)
ftext(1400, 1171, str(d_median), ha='center', va='center', rotation=90, fontsize=24,
      color='#808080')
ftext(940, 825, "d.", ha='left', va='baseline', fontsize=42)

# ---------------- Panel e ----------------
e_curves = [
    (e_MHRH_time, e_MHRH_surv, e_MHRH_end, e_MHRH_cens, e_MHRH_up, e_MHRH_lo, BLUE),
    (e_MHRL_time, e_MHRL_surv, e_MHRL_end, e_MHRL_cens, e_MHRL_up, e_MHRL_lo, RED),
    (e_MLRH_time, e_MLRH_surv, e_MLRH_end, e_MLRH_cens, e_MLRH_up, e_MLRH_lo, GREEN),
    (e_MLRL_time, e_MLRL_surv, e_MLRL_end, e_MLRL_cens, e_MLRL_up, e_MLRL_lo, CYAN),
]
axe = km_panel((177, 1721, 785, 2255), (-42, 4247), (-0.046, 1.046), e_curves, e_median)
ylabels(axe, surv_ticks, surv_tick_labels, -7, 6)
risk_table((177, 2264, 785, 2392), (-42, 4247), e_names, e_risk, [2272, 2308, 2344, 2379],
           170, [203, 339, 480, 618, 762], [189, 322, 468, 605, 745], 2415, 468, 2456)
ftext(67, 1971, "Survival probability", ha='center', va='center', rotation=90, fontsize=32)
legend(e_legend, [BLUE, RED, GREEN, CYAN], 528, 555, [2130, 2163, 2195, 2227], half=8)
ftext(194, 2058, "p < 0.0001", ha='left', va='center', fontsize=24)
ftext(467, 2042, str(e_median), ha='center', va='center', rotation=90, fontsize=24,
      color='#808080')
ftext(0, 1691, "e.", ha='left', va='baseline', fontsize=42)

# ---------------- Panel f ----------------
f_curves = [
    (f_THRH_time, f_THRH_surv, f_THRH_end, f_THRH_cens, f_THRH_up, f_THRH_lo, BLUE),
    (f_THRL_time, f_THRL_surv, f_THRL_end, f_THRL_cens, f_THRL_up, f_THRL_lo, RED),
    (f_TLRH_time, f_TLRH_surv, f_TLRH_end, f_TLRH_cens, f_TLRH_up, f_TLRH_lo, GREEN),
    (f_TLRL_time, f_TLRL_surv, f_TLRL_end, f_TLRL_cens, f_TLRL_up, f_TLRL_lo, CYAN),
]
axf = km_panel((1133, 1716, 1741, 2250), (-42, 4210), (-0.04, 1.045), f_curves, f_median)
ylabels(axf, surv_ticks, surv_tick_labels, -7, 6)
risk_table((1133, 2262, 1741, 2392), (-42, 4210), f_names, f_risk, [2278, 2309, 2338, 2374],
           1129, [1163, 1295, 1435, 1571, 1717], [1163, 1294, 1435, 1571, 1712], 2414, 1395, 2456)
ftext(1010, 1976, "Survival probability", ha='center', va='center', rotation=90, fontsize=32)
legend(f_legend, [BLUE, RED, GREEN, CYAN], 1501, 1527, [2120, 2154, 2187, 2220], half=9)
ftext(1162, 2053, "p < 0.0001", ha='left', va='center', fontsize=24)
ftext(1444, 2061, str(f_median), ha='center', va='center', rotation=90, fontsize=24,
      color='#808080')
fig.add_artist(Line2D([1796 / W], [1 - 2139 / H], marker='+', ms=8, mew=1.4, color=GREEN,
                      ls='none'))
ftext(956, 1683, "f.", ha='left', va='baseline', fontsize=42)

fig.savefig("out.png", dpi=100, facecolor='white')
